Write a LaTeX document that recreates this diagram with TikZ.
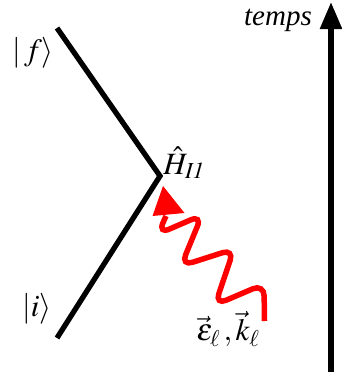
\documentclass[tikz,border=0pt]{standalone}
\usepackage{mathptmx}
\usepackage[no-math]{fontspec}
\setmainfont{Liberation Serif}
\usetikzlibrary{arrows.meta}
\tikzset{
  fermion/.style={line width=5.3pt, line join=miter, black},
  photon/.style={line width=5.5pt, red, rounded corners=12pt},
  timeaxis/.style={line width=5.5pt, black, -{Triangle[width=21pt,length=27pt]}},
  lbl/.style={inner sep=0pt, font=\fontsize{31}{36}\selectfont},
  tlbl/.style={inner sep=0pt, font=\fontsize{29}{34}\selectfont\itshape}
}
\begin{document}
\begin{tikzpicture}[x=1pt,y=-1pt]
\useasboundingbox (0,0) rectangle (342,372);
% fermion line
\coordinate (fend) at (57,28);
\coordinate (v) at (160,176);
\coordinate (iend) at (57,338);
\draw[fermion] (fend) -- (v) -- (iend);
% photon
\coordinate (pstart) at (264.5,321);
\coordinate (pbase) at (166,216);
\draw[photon] (pstart) -- (264,284) -- (215,305) -- (234,249) -- (181,266) -- (202,215) -- (158,234) -- (pbase);
\coordinate (tipA) at (163,186);
\coordinate (tipB) at (152.5,216);
\coordinate (tipC) at (184.5,213);
\fill[red] (tipA) -- (tipB) -- (tipC) -- cycle;
% time axis
\coordinate (tbot) at (331,372);
\coordinate (ttop) at (331,2);
\draw[timeaxis] (tbot) -- (ttop);
% labels
\node[lbl] (f) at (33,53) {$|\,f\rangle$};
\node[lbl] (i) at (37,309) {$|i\rangle$};
\node[lbl] (H) at (184,163) {$\hat{H}_{\mathit{I1}}$};
\node[lbl] (ek) at (228,329) {$\vec{\varepsilon}_{\ell}\,,\vec{k}_{\ell}$};
\node[tlbl, anchor=base east] (t) at (312,25) {temps};
\end{tikzpicture}
\end{document}
